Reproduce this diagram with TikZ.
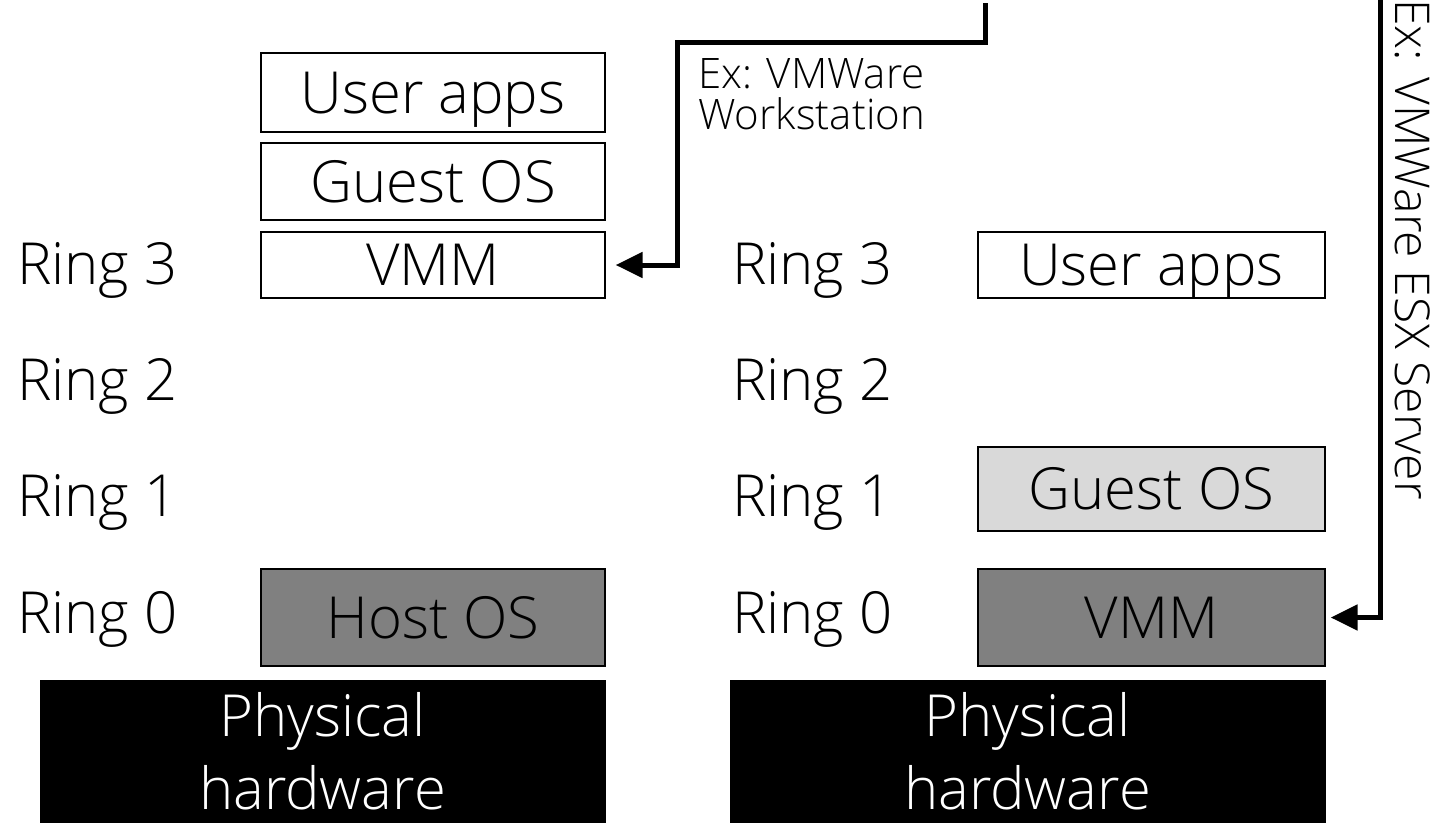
\documentclass[tikz,border=0pt]{standalone}
\usepackage{fontspec}
\setmainfont{Open Sans Light}
\usetikzlibrary{arrows.meta}
\begin{document}
\begin{tikzpicture}[x=1pt,y=-1pt,
  box/.style={draw=black,line width=1.3pt,rectangle,inner sep=0pt,text height=41.5pt,text depth=0pt,font=\fontsize{58}{70}\selectfont},
  ringlbl/.style={anchor=base west,inner sep=0pt,font=\fontsize{58}{70}\selectfont},
  hw/.style={fill=black,draw=black,text=white,align=center,inner sep=0pt,minimum height=142pt,font=\fontsize{58}{73}\selectfont},
  conn/.style={line width=5pt,-{Triangle[length=27pt,width=25pt]}},
  note/.style={inner sep=0pt,align=left,font=\fontsize{42}{41}\selectfont}]
\useasboundingbox (0,0) rectangle (1435,822);
% left stack
\node[box,minimum width=344pt,minimum height=79pt] (ua1) at (433,92.5) {User apps};
\node[box,minimum width=344pt,minimum height=77pt] (go1) at (433,181.5) {Guest OS};
\node[box,minimum width=344pt,minimum height=66pt] (vmm1) at (433,265) {VMM};
\node[box,fill=black!50,minimum width=344pt,minimum height=97pt] (host) at (433,617.5) {Host OS};
\node[hw,minimum width=565pt] (hw1) at (322.5,751) {Physical\\hardware};
% left rings
\node[ringlbl] (l3) at (17,284) {Ring 3};
\node[ringlbl] (l2) at (17,400) {Ring 2};
\node[ringlbl] (l1) at (17,516) {Ring 1};
\node[ringlbl] (l0) at (17,633) {Ring 0};
% right stack
\node[box,minimum width=347pt,minimum height=66pt] (ua2) at (1151.5,265) {User apps};
\node[box,fill=black!15,minimum width=347pt,minimum height=84pt] (go2) at (1151.5,489) {Guest OS};
\node[box,fill=black!50,minimum width=347pt,minimum height=97pt] (vmm2) at (1151.5,617.5) {VMM};
\node[hw,minimum width=595pt] (hw2) at (1027.5,751) {Physical\\hardware};
% right rings
\node[ringlbl] (r3) at (732,284) {Ring 3};
\node[ringlbl] (r2) at (732,400) {Ring 2};
\node[ringlbl] (r1) at (732,516) {Ring 1};
\node[ringlbl] (r0) at (732,633) {Ring 0};
% connectors
\coordinate (s1) at (985,3);
\coordinate (s2) at (1380,-3);
\draw[conn,shorten >=10pt] (s1) -- (985,42) -- (677,42) -- (677,265) -- (vmm1.east);
\draw[conn,shorten >=5pt] (s2) -- (1380,617.5) -- (vmm2.east);
\node[note,anchor=north west] (n1) at (698,58) {Ex: VMWare\\Workstation};
\node[inner sep=0pt,rotate=-90,anchor=base west,font=\fontsize{48}{52}\selectfont] (n2) at (1395,-1) {Ex: VMWare ESX Server};
\end{tikzpicture}
\end{document}
